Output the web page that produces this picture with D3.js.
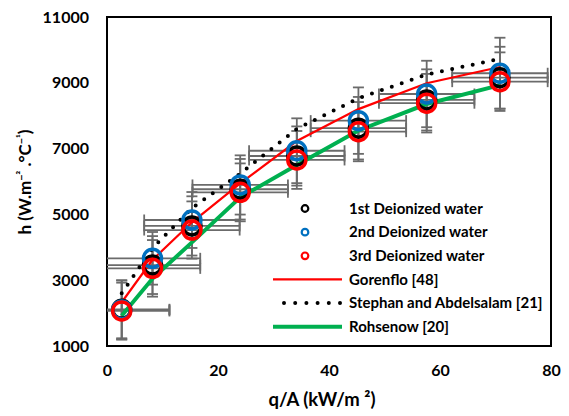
<!DOCTYPE html>
<html>
<head>
<meta charset="utf-8">
<script src="https://cdn.jsdelivr.net/npm/d3@7"></script>
<style>
  html, body { margin: 0; padding: 0; background: #fff; }
  svg { display: block; }
  text { font-family: Lato, "Open Sans", sans-serif; font-weight: bold; fill: #000; }
</style>
</head>
<body>
<svg id="chart" width="569" height="416"></svg>
<script>
// ---- data ----
const qA = [2.65, 8.2, 15.3, 24.0, 34.2, 45.3, 57.6, 70.8];
const water1 = [2115, 3460, 4650, 5765, 6775, 7620, 8480, 9155];
const water2 = [2095, 3665, 4830, 5895, 6935, 7850, 8660, 9290];
const water3 = [2065, 3360, 4525, 5670, 6655, 7515, 8380, 9035];
const err1 = [880, 880, 900, 920, 900, 950, 930, 940];
const err2 = [900, 800, 850, 900, 985, 1010, 1010, 1080];
const err3 = [860, 860, 870, 880, 880, 900, 890, 890];
const xErr = 8.6;
const gorenflo = [2330, 3620, 4760, 5945, 7230, 8200, 8985, 9480];
const stephan = [2600, 3975, 5190, 6240, 7600, 8530, 9250, 9730];
const rohsenow = [1920, 3050, 4150, 5520, 6500, 7550, 8355, 8930];
const xTicks = [0, 20, 40, 60, 80];
const yTicks = [1000, 3000, 5000, 7000, 9000, 11000];
const legendLabels = ["1st Deionized water", "2nd Deionized water", "3rd Deionized water",
  "Gorenflo [48]", "Stephan and Abdelsalam [21]", "Rohsenow [20]"];

// ---- layout ----
const L = 107, R = 551, T = 17, B = 346;
const svg = d3.select("#chart");
const x = d3.scaleLinear().domain([0, 80]).range([L, R]);
const y = d3.scaleLinear().domain([1000, 11000]).range([B, T]);

svg.append("defs").append("clipPath").attr("id", "plotclip")
  .append("rect").attr("x", L).attr("y", T).attr("width", R - L).attr("height", B - T);

// axes (labels only)
const gx = svg.append("g").attr("transform", `translate(0,${B})`)
  .call(d3.axisBottom(x).tickValues(xTicks).tickSize(0).tickPadding(19).tickFormat(d3.format("d")));
gx.select(".domain").remove();
gx.selectAll("text").style("font-size", "16px").style("font-family", "Lato, sans-serif").style("font-weight", "bold");

const gy = svg.append("g").attr("transform", `translate(${L},0)`)
  .call(d3.axisLeft(y).tickValues(yTicks).tickSize(0).tickPadding(18).tickFormat(d3.format("d")));
gy.select(".domain").remove();
gy.selectAll("text").style("font-size", "16px").style("font-family", "Lato, sans-serif").style("font-weight", "bold");

// frame
svg.append("rect").attr("x", L).attr("y", T).attr("width", R - L).attr("height", B - T)
  .attr("fill", "none").attr("stroke", "#000").attr("stroke-width", 2);

const plot = svg.append("g").attr("clip-path", "url(#plotclip)");

// error bars
const series = [
  { vals: water1, err: err1, color: "#000000" },
  { vals: water2, err: err2, color: "#0070C0" },
  { vals: water3, err: err3, color: "#FF0000" }
];
const eb = plot.append("g").attr("stroke", "#6b6b6b").attr("stroke-width", 1.8).attr("fill", "none");
const cap = 5.5;
series.forEach(s => {
  qA.forEach((q, i) => {
    const cx = x(q), cy = y(s.vals[i]);
    const yt = y(s.vals[i] + s.err[i]), yb = y(s.vals[i] - s.err[i]);
    eb.append("line").attr("x1", cx).attr("x2", cx).attr("y1", yt).attr("y2", yb);
    eb.append("line").attr("x1", cx - cap).attr("x2", cx + cap).attr("y1", yt).attr("y2", yt);
    eb.append("line").attr("x1", cx - cap).attr("x2", cx + cap).attr("y1", yb).attr("y2", yb);
    const xl = x(q - xErr), xr = x(q + xErr);
    eb.append("line").attr("x1", xl).attr("x2", xr).attr("y1", cy).attr("y2", cy);
    eb.append("line").attr("x1", xl).attr("x2", xl).attr("y1", cy - cap).attr("y2", cy + cap);
    eb.append("line").attr("x1", xr).attr("x2", xr).attr("y1", cy - cap).attr("y2", cy + cap);
  });
});

// correlation lines
const lineGen = d3.line().x(d => x(d[0])).y(d => y(d[1]));
const zip = arr => qA.map((q, i) => [q, arr[i]]);
plot.append("path").attr("d", lineGen(zip(rohsenow)))
  .attr("fill", "none").attr("stroke", "#00B050").attr("stroke-width", 4);
plot.append("path").attr("d", lineGen(zip(gorenflo)))
  .attr("fill", "none").attr("stroke", "#FF0000").attr("stroke-width", 2.2);
plot.append("path").attr("d", lineGen(zip(stephan)))
  .attr("fill", "none").attr("stroke", "#000").attr("stroke-width", 4)
  .attr("stroke-linecap", "round").attr("stroke-dasharray", "0 10.5");

// markers
series.forEach(s => {
  plot.append("g").selectAll("circle").data(qA).join("circle")
    .attr("cx", d => x(d)).attr("cy", (d, i) => y(s.vals[i])).attr("r", 9)
    .attr("fill", "none").attr("stroke", s.color).attr("stroke-width", 3.5);
});

// legend
const lg = svg.append("g");
const ly0 = 208.5, lstep = 23.65;
legendLabels.forEach((lab, i) => {
  const yy = ly0 + i * lstep;
  if (i < 3) {
    lg.append("circle").attr("cx", 305).attr("cy", yy).attr("r", 3.3)
      .attr("fill", "none").attr("stroke", series[i].color).attr("stroke-width", 2.2);
  } else if (i === 3) {
    lg.append("line").attr("x1", 273).attr("x2", 342).attr("y1", yy).attr("y2", yy)
      .attr("stroke", "#FF0000").attr("stroke-width", 2.2);
  } else if (i === 4) {
    lg.append("line").attr("x1", 284).attr("x2", 342).attr("y1", yy).attr("y2", yy)
      .attr("stroke", "#000").attr("stroke-width", 4).attr("stroke-linecap", "round")
      .attr("stroke-dasharray", "0 11.2");
  } else {
    lg.append("line").attr("x1", 273).attr("x2", 342).attr("y1", yy).attr("y2", yy)
      .attr("stroke", "#00B050").attr("stroke-width", 4);
  }
  lg.append("text").attr("x", 349).attr("y", yy).attr("dy", "0.35em")
    .style("font-size", "15px").text(lab);
});

// axis titles
const xt = svg.append("text").attr("x", 322).attr("y", 406).attr("text-anchor", "middle")
  .style("font-size", "18.5px").text("q/A (kW/m \u00B2)");

const yt = svg.append("text").attr("transform", "translate(31,182) rotate(-90)")
  .attr("text-anchor", "middle").style("font-size", "17px");
yt.append("tspan").text("h (W.m");
yt.append("tspan").attr("dy", -6).style("font-size", "11px").text("\u2212\u00B2");
yt.append("tspan").attr("dy", 6).text(" .\u00B0C");
yt.append("tspan").attr("dy", -6).style("font-size", "11px").text("\u2212\u00B9");
yt.append("tspan").attr("dy", 6).text(")");
</script>
</body>
</html>
